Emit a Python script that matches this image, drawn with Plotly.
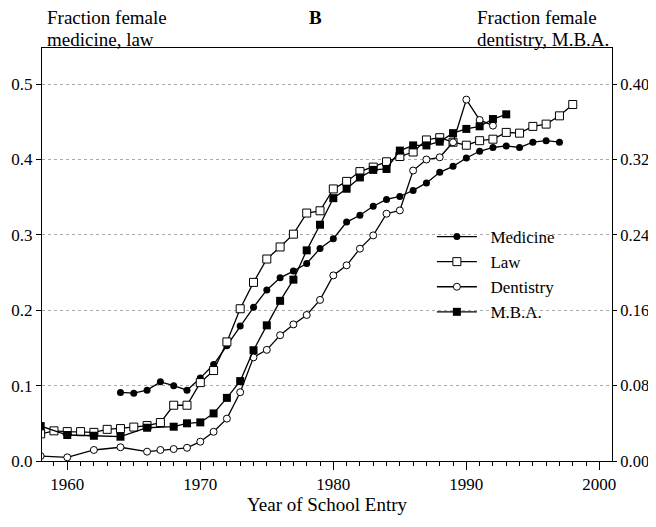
import plotly.graph_objects as go

# ---- data ----
med_years = list(range(1964, 1998))
med_vals = [0.091, 0.090, 0.094, 0.105, 0.100, 0.094, 0.110, 0.128, 0.153, 0.179,
            0.204, 0.227, 0.243, 0.252, 0.262, 0.282, 0.295, 0.317, 0.326, 0.338,
            0.347, 0.351, 0.359, 0.369, 0.383, 0.391, 0.402, 0.411, 0.416, 0.418,
            0.416, 0.423, 0.425, 0.423]

law_years = list(range(1958, 1999))
law_vals = [0.036, 0.040, 0.039, 0.039, 0.038, 0.042, 0.043, 0.045, 0.047, 0.051,
            0.074, 0.074, 0.104, 0.120, 0.158, 0.202, 0.237, 0.268, 0.284, 0.301,
            0.329, 0.332, 0.361, 0.371, 0.384, 0.390, 0.397, 0.404, 0.410, 0.426,
            0.429, 0.423, 0.419, 0.425, 0.427, 0.436, 0.435, 0.444, 0.447, 0.458,
            0.473]

dent_years = [1958, 1960, 1962, 1964, 1966, 1967, 1968, 1969, 1970, 1971, 1972,
              1973, 1974, 1975, 1976, 1977, 1978, 1979, 1980, 1981, 1982, 1983,
              1984, 1985, 1986, 1987, 1988, 1989, 1990, 1991, 1992]
dent_vals = [0.0053, 0.0039, 0.0117, 0.0146, 0.0099, 0.0117, 0.0127, 0.0140, 0.0205,
             0.031, 0.045, 0.073, 0.110, 0.118, 0.1335, 0.145, 0.155, 0.171, 0.197,
             0.2077, 0.2254, 0.2395, 0.2625, 0.266, 0.3083, 0.320, 0.3224, 0.3383,
             0.3836, 0.362, 0.356]

mba_years = [1958, 1960, 1962, 1964, 1966, 1968, 1969, 1970, 1971, 1972, 1973,
             1974, 1975, 1976, 1977, 1978, 1979, 1980, 1981, 1982, 1983, 1984,
             1985, 1986, 1987, 1988, 1989, 1990, 1991, 1992, 1993]
mba_vals = [0.0371, 0.0276, 0.0268, 0.0258, 0.0353, 0.0364, 0.040, 0.041, 0.0505,
            0.067, 0.0848, 0.1176, 0.144, 0.170, 0.1925, 0.2236, 0.2508, 0.279,
            0.289, 0.301, 0.309, 0.310, 0.3295, 0.335, 0.335, 0.339, 0.348, 0.3525,
            0.3553, 0.363, 0.368]

x_ticks = [1960, 1970, 1980, 1990, 2000]
left_ticks = [0.0, 0.1, 0.2, 0.3, 0.4, 0.5]
right_ticks = [0.00, 0.08, 0.16, 0.24, 0.32, 0.40]

FONT = "Liberation Serif"
FS = 17      # tick labels / legend
FT = 19      # titles
LW = 1.3
NB = "\u00a0\u00a0"

fig = go.Figure()
fig.add_trace(go.Scatter(x=med_years, y=med_vals, name=NB + "Medicine", mode="lines+markers",
                         line=dict(color="black", width=LW),
                         marker=dict(symbol="circle", size=7, color="black")))
fig.add_trace(go.Scatter(x=law_years, y=law_vals, name=NB + "Law", mode="lines+markers",
                         line=dict(color="black", width=LW),
                         marker=dict(symbol="square", size=8, color="white",
                                     line=dict(color="black", width=1))))
fig.add_trace(go.Scatter(x=dent_years, y=dent_vals, name=NB + "Dentistry", mode="lines+markers",
                         yaxis="y2", line=dict(color="black", width=LW),
                         marker=dict(symbol="circle", size=7, color="white",
                                     line=dict(color="black", width=1))))
fig.add_trace(go.Scatter(x=mba_years, y=mba_vals, name=NB + "M.B.A.", mode="lines+markers",
                         yaxis="y2", line=dict(color="black", width=LW),
                         marker=dict(symbol="square", size=8, color="black")))

def ann(text, x, y, xanchor="left", bold=False):
    return dict(text=("<b>%s</b>" % text) if bold else text, xref="paper", yref="paper",
                x=x, y=y, xanchor=xanchor, yanchor="middle", showarrow=False,
                font=dict(family=FONT, size=FT, color="black"))

fig.update_layout(
    width=648, height=519,
    margin=dict(l=34, r=44, t=40, b=66),
    paper_bgcolor="white", plot_bgcolor="white",
    font=dict(family=FONT, size=FS, color="black"),
    showlegend=True,
    legend=dict(x=0.684, y=0.586, xanchor="left", yanchor="top",
                bgcolor="rgba(0,0,0,0)", font=dict(family=FONT, size=FS),
                itemwidth=40, tracegroupgap=0),
    xaxis=dict(range=[1958.1, 2000.95], tickvals=x_ticks, ticks="outside", ticklen=8,
               tickcolor="black", showline=True, linecolor="black", linewidth=1,
               mirror=True, showgrid=False, zeroline=False, automargin=False,
               minor=dict(dtick=1, ticks="outside", ticklen=4, tickcolor="black"),
               title=dict(text="Year of School Entry", font=dict(family=FONT, size=FT),
                          standoff=4)),
    yaxis=dict(range=[0, 0.548], tickvals=left_ticks, tickformat=".1f", ticks="outside",
               ticklen=5, tickcolor="black", showline=True, linecolor="black",
               linewidth=1, showgrid=True, gridcolor="#aaaaaa", griddash="dot",
               gridwidth=1, zeroline=False, automargin=False),
    yaxis2=dict(range=[0, 0.4384], tickvals=right_ticks, tickformat=".2f",
                overlaying="y", side="right", ticks="outside", ticklen=4,
                tickcolor="black", showline=True, linecolor="black", linewidth=1,
                showgrid=False, zeroline=False, automargin=False,
                tickfont=dict(family=FONT, size=16.5)),
    annotations=[
        ann("Fraction female", 0.005, 1.0738),
        ann("medicine, law", 0.005, 1.0206),
        ann("B", 0.4807, 1.073, xanchor="center", bold=True),
        ann("Fraction female", 0.76, 1.0738),
        ann("dentistry, M.B.A.", 0.76, 1.0206),
    ],
)

fig.write_html("out.html")
